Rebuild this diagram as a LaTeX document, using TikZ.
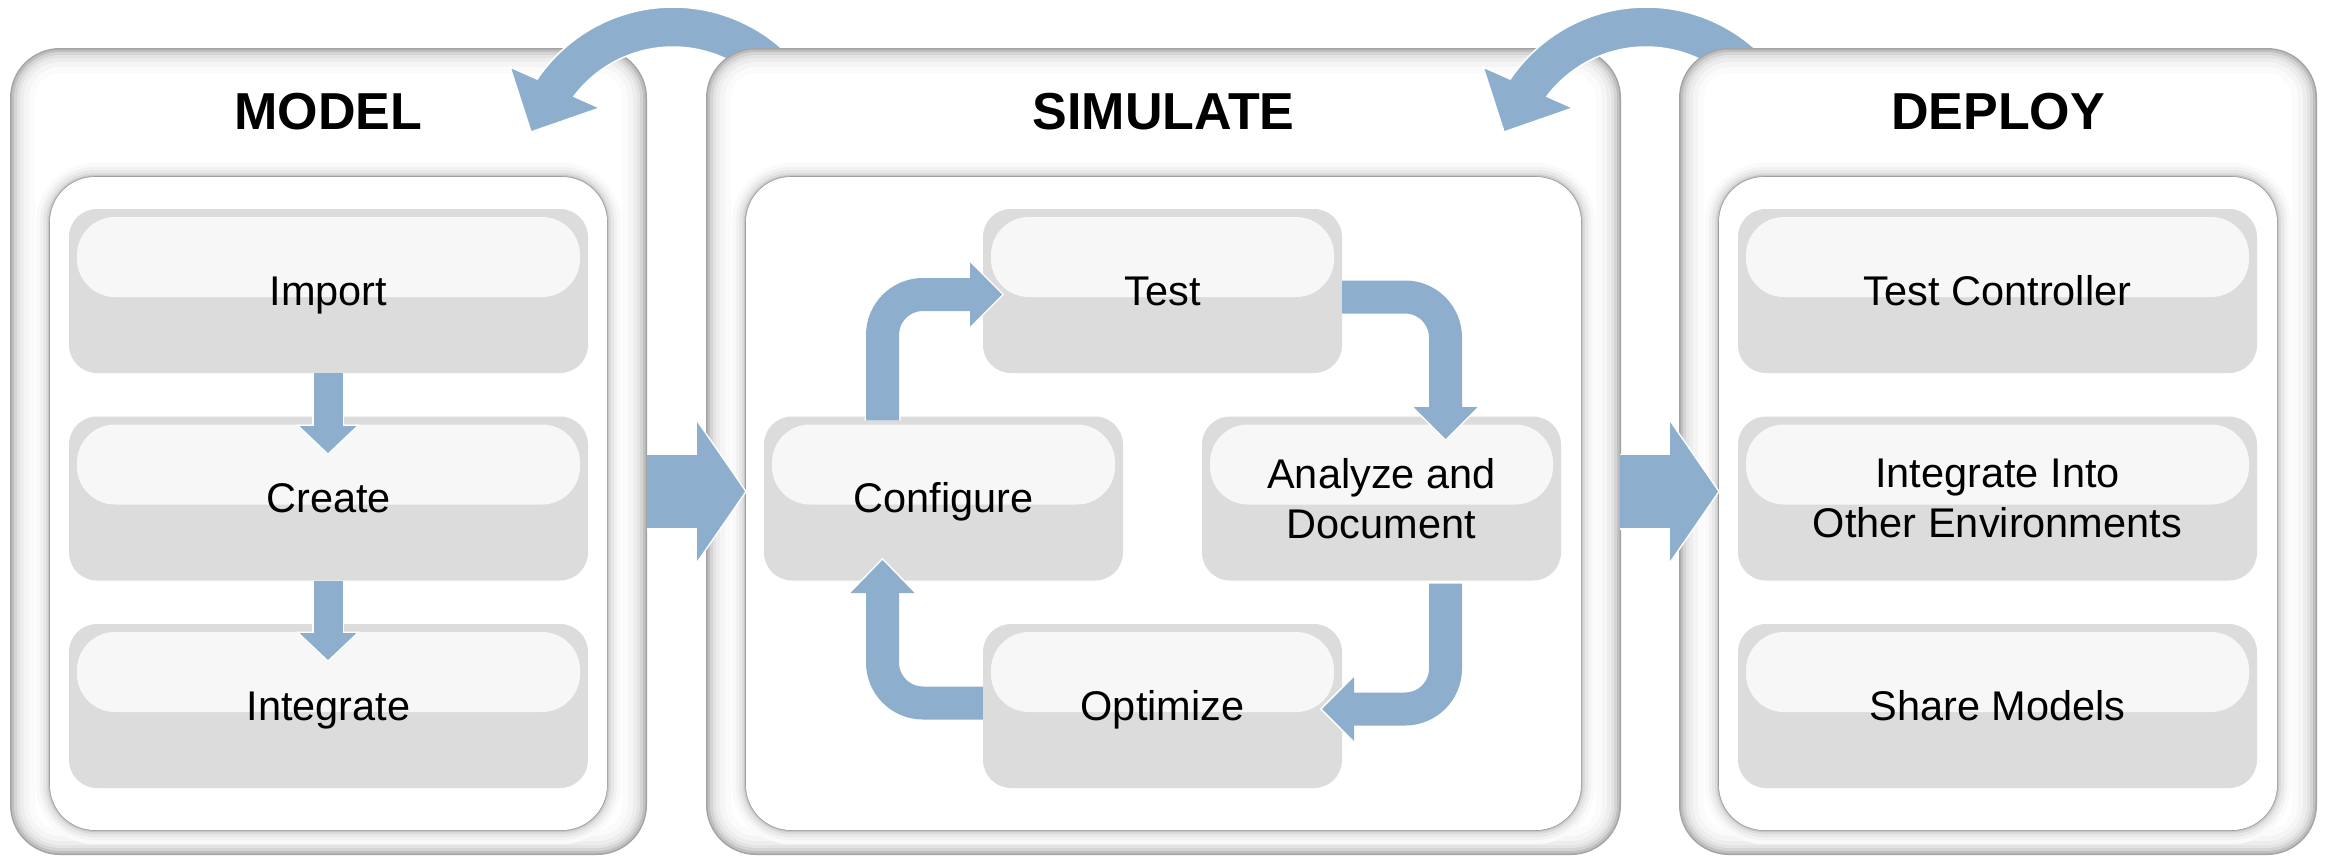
\documentclass[tikz,border=0pt]{standalone}
\usepackage{fontspec}
\setmainfont{Liberation Sans}
\usetikzlibrary{calc}
\definecolor{flowblue}{RGB}{141,175,205}
\definecolor{boxdark}{RGB}{220,220,220}
\definecolor{boxlight}{RGB}{247,247,247}
\newcommand\boxfont{\fontsize{41.5}{50}\selectfont}
\newcommand\titlefont{\bfseries\fontsize{52}{60}\selectfont}
\newcommand\mkpanel[2]{%
  \foreach \d/\c in {0/36,1.5/25,4/17,7/11,10/7,14/4,19/1.5,25/0}{%
    \fill[black!\c, rounded corners={(50-\d)*1pt}] ({#1+\d},{48+\d}) rectangle ({#2-\d},{855-\d});
  }%
  \foreach \e/\c in {14/2,10/5,7/9,4/14,2/22,0.8/38}{%
    \fill[black!\c, rounded corners={(45+\e)*1pt}] ({#1+40-\e},{177-\e}) rectangle ({#2-40+\e},{830+\e});
  }%
  \fill[white, rounded corners=45pt] ({#1+40},177) rectangle ({#2-40},830);
}
\begin{document}
\begin{tikzpicture}[x=1pt,y=-1pt,
  box/.style={rectangle, rounded corners=28pt, fill=boxdark, inner sep=0pt,
    minimum height=164pt, font=\boxfont, text=black,
    path picture={\fill[boxlight, rounded corners=38pt]
      ($(path picture bounding box.north west)+(8,8)$) rectangle
      ($(path picture bounding box.north east)+(-8,88)$);}},
  wbox/.style={minimum width=519pt},
  nbox/.style={minimum width=359pt},
  one/.style={text height=28pt, text depth=0pt},
  title/.style={font=\titlefont, inner sep=0pt, text height=37.6pt, text depth=0pt},
  curvearrow/.style={fill=flowblue, draw=white, line width=1.5pt, line join=miter},
  loopbg/.style={draw=white, line width=36pt, rounded corners=40.5pt},
  loopfg/.style={draw=flowblue, line width=33pt, rounded corners=40.5pt},
  smallbg/.style={draw=white, line width=32pt},
  smallfg/.style={draw=flowblue, line width=29pt},
  bigbg/.style={draw=white, line width=76pt},
  bigfg/.style={draw=flowblue, line width=73pt},
  headbg/.style={fill=white, draw=white, line width=3pt, line join=miter},
  headfg/.style={fill=flowblue}]
\useasboundingbox (0,0) rectangle (2330,857);
\fill[white] (0,0) rectangle (2330,857);

% MODEL panel
\mkpanel{10}{647}
% curved arrow SIMULATE -> MODEL
\coordinate (c1) at (673,171);
\path[curvearrow] ($(c1)+(-40:164)$) arc[start angle=-40, end angle=-145.9, radius=164]
  -- (510,67) -- (531,132) -- (600,108) -- ($(c1)+(-143:124)$)
  arc[start angle=-143, end angle=-40, radius=124] -- cycle;
% SIMULATE panel
\mkpanel{706}{1621}
% curved arrow DEPLOY -> SIMULATE
\coordinate (c2) at (1646,171);
\path[curvearrow] ($(c2)+(-40:164)$) arc[start angle=-40, end angle=-145.9, radius=164]
  -- (1483,67) -- (1504,132) -- (1573,108) -- ($(c2)+(-143:124)$)
  arc[start angle=-143, end angle=-40, radius=124] -- cycle;
% DEPLOY panel
\mkpanel{1679}{2317}

% titles
\node[title] (tmodel) at (328.5,111) {MODEL};
\node[title] (tsim) at (1163.5,111) {SIMULATE};
\node[title] (tdeploy) at (1998,111) {DEPLOY};

% boxes
\node[box, wbox, one] (import) at (328.5,291) {Import};
\node[box, wbox, one] (create) at (328.5,498.5) {Create};
\node[box, wbox, one] (integrate) at (328.5,706) {Integrate};
\node[box, nbox, one] (test) at (1162.5,291) {Test};
\node[box, nbox, one] (configure) at (943.5,498.5) {Configure};
\node[box, nbox, align=center] (analyze) at (1381.5,498.5) {Analyze and\\Document};
\node[box, nbox, one] (optimize) at (1162.5,706) {Optimize};
\node[box, wbox, one] (testctrl) at (1997.5,291) {Test Controller};
\node[box, wbox, align=center] (intoenv) at (1997.5,498.5) {Integrate Into\\Other Environments};
\node[box, wbox, one] (share) at (1997.5,706) {Share Models};

% connector end points
\coordinate (aA0) at ($(configure.north)+(-61,4)$);
\coordinate (aA1) at (972,294.5);
\coordinate (aB0) at ($(test.east)+(0,6)$);
\coordinate (aB1) at (1445.5,409);
\coordinate (aC0) at ($(analyze.south)+(64,3)$);
\coordinate (aC1) at (1352,709);
\coordinate (aD0) at ($(optimize.west)+(0,-3)$);
\coordinate (aD1) at (882.5,591);
\coordinate (m1a) at ($(import.south)+(-0.5,0)$);
\coordinate (m1b) at (328,428);
\coordinate (m2a) at ($(create.south)+(-0.5,0)$);
\coordinate (m2b) at (328,635);
\coordinate (modelE) at (647,491.5);
\coordinate (b1b) at (699,491.5);
\coordinate (simE) at (1620,491.5);
\coordinate (b2b) at (1672,491.5);

% white outline pass
\draw[loopbg] (aA0) |- (aA1);
\draw[loopbg] (aB0) -| (aB1);
\draw[loopbg] (aC0) |- (aC1);
\draw[loopbg] (aD0) -| (aD1);
\draw[smallbg] (m1a) -- (m1b);
\draw[smallbg] (m2a) -- (m2b);
\draw[bigbg] (modelE) -- (b1b);
\draw[bigbg] (simE) -- (b2b);
\path[headbg] (970,262.5) -- (1002,294.5) -- (970,326.5) -- cycle;
\path[headbg] (1413.5,407) -- (1445.5,439) -- (1477.5,407) -- cycle;
\path[headbg] (1354,677) -- (1322,709) -- (1354,741) -- cycle;
\path[headbg] (850.5,593) -- (882.5,560) -- (914.5,593) -- cycle;
\path[headbg] (299.5,426) -- (328,453) -- (356.5,426) -- cycle;
\path[headbg] (299.5,633) -- (328,660) -- (356.5,633) -- cycle;
\path[headbg] (697,422) -- (745,491.5) -- (697,561) -- cycle;
\path[headbg] (1670,422) -- (1718,491.5) -- (1670,561) -- cycle;

% blue pass
\draw[loopfg] (aA0) |- (aA1);
\draw[loopfg] (aB0) -| (aB1);
\draw[loopfg] (aC0) |- (aC1);
\draw[loopfg] (aD0) -| (aD1);
\draw[smallfg] (m1a) -- (m1b);
\draw[smallfg] (m2a) -- (m2b);
\draw[bigfg] (modelE) -- (b1b);
\draw[bigfg] (simE) -- (b2b);
\path[headfg] (970,262.5) -- (1002,294.5) -- (970,326.5) -- cycle;
\path[headfg] (1413.5,407) -- (1445.5,439) -- (1477.5,407) -- cycle;
\path[headfg] (1354,677) -- (1322,709) -- (1354,741) -- cycle;
\path[headfg] (850.5,593) -- (882.5,560) -- (914.5,593) -- cycle;
\path[headfg] (299.5,426) -- (328,453) -- (356.5,426) -- cycle;
\path[headfg] (299.5,633) -- (328,660) -- (356.5,633) -- cycle;
\path[headfg] (697,422) -- (745,491.5) -- (697,561) -- cycle;
\path[headfg] (1670,422) -- (1718,491.5) -- (1670,561) -- cycle;
\end{tikzpicture}
\end{document}
